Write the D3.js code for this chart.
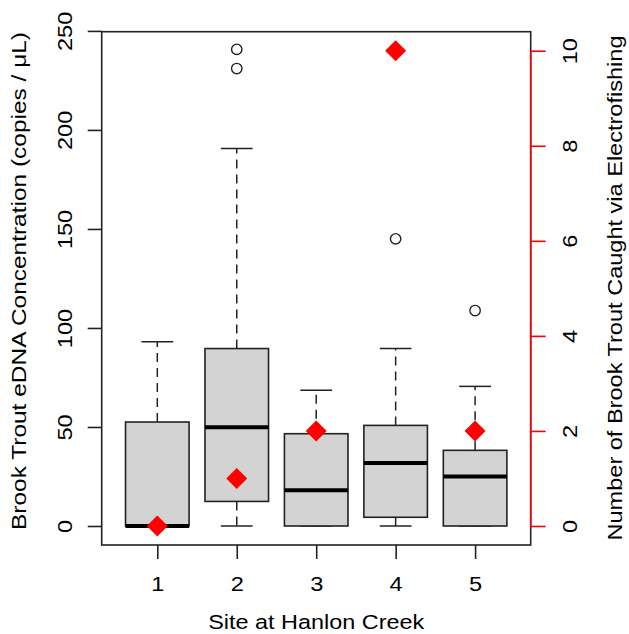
<!DOCTYPE html>
<html>
<head>
<meta charset="utf-8">
<script src="https://cdn.jsdelivr.net/npm/d3@7"></script>
<style>
  body { margin: 0; background: #fff; }
  text { font-family: "Liberation Sans", Arial, sans-serif; font-size: 20.5px; fill: #000; }
</style>
</head>
<body>
<svg id="chart" width="629" height="634"></svg>
<script>
// eDNA boxplot stats per site (copies / uL)
var sites = [1, 2, 3, 4, 5];
var whiskerLow = [0, 0, 0, 0, 0];
var q1 = [0, 12.4, 0, 4.4, 0];
var median = [0, 49.8, 18, 31.8, 25];
var q3 = [52.5, 89.6, 46.6, 50.8, 38.2];
var whiskerHigh = [93, 190.6, 68.5, 89.6, 70.5];
var outliers = [[], [240.7, 231], [], [145], [108.8]];
// fish caught by electrofishing (right axis)
var fishCaught = [0, 1, 2, 10, 2];

var leftTicks = [0, 50, 100, 150, 200, 250];
var rightTicks = [0, 2, 4, 6, 8, 10];

var svg = d3.select('#chart');
// note: "top" is reserved on window, so use plotX / plotY names
var plotL = 101.7, plotR = 530.7, plotT = 31.7, plotB = 545;
var stretch = 1.15;
var fontCss = '"Liberation Sans", Arial, sans-serif';

var x = d3.scaleLinear().domain([0.3, 5.7]).range([plotL, plotR]);
var yL = d3.scaleLinear().domain([-9.6, 249.6]).range([plotB, plotT]);
var yR = d3.scaleLinear().domain([-0.4, 10.4]).range([plotB, plotT]);

var boxes = sites.map(function (s, i) {
    return {site: s, lo: whiskerLow[i], q1: q1[i], med: median[i], q3: q3[i], hi: whiskerHigh[i], out: outliers[i]};
});

function widen(sel) {
    sel.each(function () {
        var w = this.getComputedTextLength();
        this.setAttribute('textLength', w * stretch);
        this.setAttribute('lengthAdjust', 'spacingAndGlyphs');
    });
}

var g = svg.append('g');

// whiskers (dashed) and caps
var bx = g.selectAll('g.box').data(boxes).enter().append('g').attr('class', 'box');
bx.append('line')
    .attr('x1', function (d) { return x(d.site); }).attr('x2', function (d) { return x(d.site); })
    .attr('y1', function (d) { return yL(d.q3); }).attr('y2', function (d) { return yL(d.hi); })
    .attr('stroke', '#222').attr('stroke-width', 1.5).attr('stroke-dasharray', '9,6');
bx.append('line')
    .attr('x1', function (d) { return x(d.site); }).attr('x2', function (d) { return x(d.site); })
    .attr('y1', function (d) { return yL(d.q1); }).attr('y2', function (d) { return yL(d.lo); })
    .attr('stroke', '#222').attr('stroke-width', 1.5).attr('stroke-dasharray', '9,6');
bx.append('line')
    .attr('x1', function (d) { return x(d.site - 0.2); }).attr('x2', function (d) { return x(d.site + 0.2); })
    .attr('y1', function (d) { return yL(d.hi); }).attr('y2', function (d) { return yL(d.hi); })
    .attr('stroke', '#222').attr('stroke-width', 1.5);
bx.append('line')
    .attr('x1', function (d) { return x(d.site - 0.2); }).attr('x2', function (d) { return x(d.site + 0.2); })
    .attr('y1', function (d) { return yL(d.lo); }).attr('y2', function (d) { return yL(d.lo); })
    .attr('stroke', '#222').attr('stroke-width', 1.5);
bx.append('rect')
    .attr('x', function (d) { return x(d.site - 0.4); })
    .attr('width', function (d) { return x(d.site + 0.4) - x(d.site - 0.4); })
    .attr('y', function (d) { return yL(d.q3); })
    .attr('height', function (d) { return yL(d.q1) - yL(d.q3); })
    .attr('fill', '#d3d3d3').attr('stroke', '#222').attr('stroke-width', 1.6);
bx.append('line')
    .attr('x1', function (d) { return x(d.site - 0.4); }).attr('x2', function (d) { return x(d.site + 0.4); })
    .attr('y1', function (d) { return yL(d.med); }).attr('y2', function (d) { return yL(d.med); })
    .attr('stroke', '#000').attr('stroke-width', 4);
bx.selectAll('circle').data(function (d) {
        return d.out.map(function (v) { return {site: d.site, v: v}; });
    }).enter().append('circle')
    .attr('cx', function (d) { return x(d.site); })
    .attr('cy', function (d) { return yL(d.v); })
    .attr('r', 5.2)
    .attr('fill', 'none').attr('stroke', '#222').attr('stroke-width', 1.4);

// plot frame
g.append('rect')
    .attr('x', plotL).attr('y', plotT)
    .attr('width', plotR - plotL).attr('height', plotB - plotT)
    .attr('fill', 'none').attr('stroke', '#222').attr('stroke-width', 1.6);

// left axis
var axL = g.append('g').attr('transform', 'translate(' + plotL + ',0)')
    .call(d3.axisLeft(yL).tickValues(leftTicks).tickSize(14).tickSizeOuter(0));
axL.select('.domain').remove();
axL.selectAll('.tick line').attr('stroke', '#222').attr('stroke-width', 1.6);
axL.selectAll('.tick text')
    .attr('transform', 'rotate(-90)')
    .attr('x', 0).attr('y', -30).attr('dy', 0)
    .attr('text-anchor', 'middle')
    .style('font-size', '20.5px').style('font-family', fontCss)
    .call(widen);

// right axis in red
var axR = g.append('g').attr('transform', 'translate(' + plotR + ',0)')
    .call(d3.axisRight(yR).tickValues(rightTicks).tickSize(15).tickSizeOuter(0));
axR.select('.domain').remove();
axR.append('line')
    .attr('x1', 0).attr('x2', 0)
    .attr('y1', yR(0)).attr('y2', yR(10))
    .attr('stroke', 'red').attr('stroke-width', 1.6);
axR.selectAll('.tick line').attr('stroke', 'red').attr('stroke-width', 1.6);
axR.selectAll('.tick text')
    .attr('transform', 'rotate(-90)')
    .attr('x', 0).attr('y', 46.5).attr('dy', 0)
    .attr('text-anchor', 'middle').attr('fill', '#000')
    .style('font-size', '20.5px').style('font-family', fontCss)
    .call(widen);

// bottom axis
var axB = g.append('g').attr('transform', 'translate(0,' + plotB + ')')
    .call(d3.axisBottom(x).tickValues(sites).tickFormat(d3.format('d')).tickSize(14).tickSizeOuter(0));
axB.select('.domain').remove();
axB.selectAll('.tick line').attr('stroke', '#222').attr('stroke-width', 1.6);
axB.selectAll('.tick text')
    .attr('y', 45.5).attr('dy', 0)
    .style('font-size', '20.5px').style('font-family', fontCss)
    .call(widen);

// fish counts as red diamonds
g.selectAll('path.fish').data(fishCaught).enter().append('path')
    .attr('class', 'fish')
    .attr('d', d3.symbol(d3.symbolSquare, 220))
    .attr('transform', function (d, i) {
        return 'translate(' + x(sites[i]) + ',' + yR(d) + ') rotate(45)';
    })
    .attr('fill', 'red');

// titles
g.append('text')
    .attr('x', (plotL + plotR) / 2).attr('y', 629)
    .attr('text-anchor', 'middle')
    .attr('textLength', 216).attr('lengthAdjust', 'spacingAndGlyphs')
    .text('Site at Hanlon Creek');

g.append('text')
    .attr('transform', 'translate(26,281) rotate(-90)')
    .attr('text-anchor', 'middle')
    .attr('textLength', 498).attr('lengthAdjust', 'spacingAndGlyphs')
    .text('Brook Trout eDNA Concentration (copies /  \u03BCL)');

g.append('text')
    .attr('transform', 'translate(622,288) rotate(-90)')
    .attr('text-anchor', 'middle')
    .attr('textLength', 505).attr('lengthAdjust', 'spacingAndGlyphs')
    .text('Number of Brook Trout Caught via Electrofishing');
</script>
</body>
</html>
